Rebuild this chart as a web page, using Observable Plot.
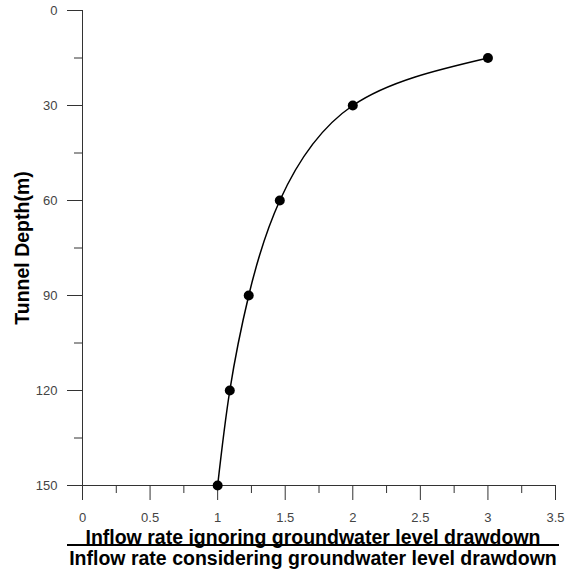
<!DOCTYPE html>
<html>
<head>
<meta charset="utf-8">
<script src="https://cdn.jsdelivr.net/npm/d3@7"></script>
<script src="https://cdn.jsdelivr.net/npm/@observablehq/plot@0.6"></script>
<style>
  body { margin: 0; background: white; }
  #wrap { position: relative; width: 577px; height: 572px; background: white; overflow: hidden; }
  #xt { position: absolute; left: 67px; top: 530px; width: 492px; text-align: center;
        font-family: 'Liberation Sans', Arial, sans-serif; font-weight: bold; font-size: 19.5px; color: #000; white-space: nowrap; }
  #xt .l1 { line-height: 14px; border-bottom: 2px solid #000; }
  #xt .l2 { line-height: 25px; }
</style>
</head>
<body>
<div id="wrap">
  <div id="chart"></div>
  <div id="xt"></div>
</div>
<script>
// Data
const depths = [15, 30, 60, 90, 120, 150];
const ratios = [3.0, 2.0, 1.46, 1.23, 1.09, 1.0];

// Axis ticks
const yTicks = [0, 30, 60, 90, 120, 150];
const yMinorTicks = [15, 45, 75, 105, 135];
const xTicks = [0, 0.5, 1, 1.5, 2, 2.5, 3, 3.5];
const xTickLabels = ["0", "0.5", "1", "1.5", "2", "2.5", "3", "3.5"];
const xMinorTicks = [0.25, 0.75, 1.25, 1.75, 2.25, 2.75, 3.25];

// Texts
const yTitle = "Tunnel Depth(m)";
const xTitleNumerator = "Inflow rate ignoring groundwater level drawdown";
const xTitleDenominator = "Inflow rate considering groundwater level drawdown";

const data = depths.map((d, i) => ({depth: d, ratio: ratios[i]}));

const axisColor = "#333";
const labelColor = "#444";

const chart = Plot.plot({
  width: 577,
  height: 527,
  marginLeft: 82,
  marginRight: 22,
  marginTop: 10,
  marginBottom: 42,
  style: {fontFamily: "'Liberation Sans', Arial, sans-serif", fontSize: "13px", background: "white"},
  x: {domain: [0, 3.5], label: null},
  y: {domain: [0, 150], reverse: true, label: null},
  marks: [
    Plot.ruleX([0], {stroke: axisColor}),
    Plot.ruleY([150], {stroke: axisColor}),
    Plot.axisY(yTicks, {anchor: "left", tickSize: 15, tickPadding: 10, stroke: axisColor, fill: labelColor, fontSize: 13, label: null}),
    Plot.axisY(yMinorTicks, {anchor: "left", tickSize: 8, stroke: axisColor, tickFormat: () => "", label: null}),
    Plot.axisX(xTicks, {anchor: "bottom", tickSize: 15, tickPadding: 12, stroke: axisColor, fill: labelColor, fontSize: 13,
      tickFormat: (d) => xTickLabels[xTicks.indexOf(d)], label: null}),
    Plot.axisX(xMinorTicks, {anchor: "bottom", tickSize: 8, stroke: axisColor, tickFormat: () => "", label: null}),
    Plot.line(data, {x: "ratio", y: "depth", curve: "natural", stroke: "#000", strokeWidth: 1.5}),
    Plot.dot(data, {x: "ratio", y: "depth", r: 5, fill: "#000", stroke: "none"}),
    Plot.text([yTitle], {frameAnchor: "left", textAnchor: "middle", dx: -60, rotate: -90, fontSize: 19.5, fontWeight: "bold", fill: "#000"})
  ]
});
document.getElementById("chart").appendChild(chart);

const xt = document.getElementById("xt");
const l1 = document.createElement("div"); l1.className = "l1"; l1.textContent = xTitleNumerator;
const l2 = document.createElement("div"); l2.className = "l2"; l2.textContent = xTitleDenominator;
xt.appendChild(l1); xt.appendChild(l2);
</script>
</body>
</html>
